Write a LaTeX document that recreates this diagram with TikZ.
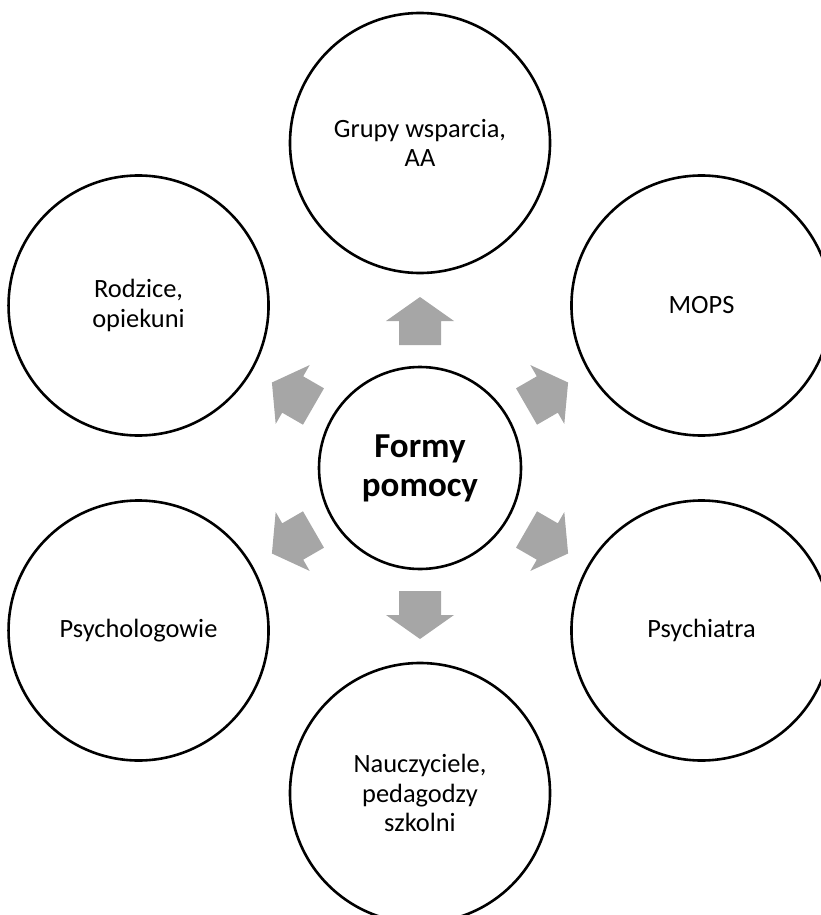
\documentclass[tikz,border=0pt]{standalone}
\usepackage{fontspec}
\setmainfont{Carlito}
\usetikzlibrary{calc}
\tikzset{
  outer/.style={circle, draw=black, line width=2.6pt, minimum size=260pt, inner sep=0pt, align=center, font=\fontsize{26.4}{29.5}\selectfont},
  inner/.style={circle, draw=black, line width=2.6pt, minimum size=202pt, inner sep=0pt, align=center, font=\fontsize{35}{39}\selectfont\bfseries},
  blockarrow/.style={fill=black!35, draw=none}
}
\begin{document}
\begin{tikzpicture}[x=1pt,y=1pt]
\useasboundingbox (0,-915) rectangle (821,0);
\clip (0,-915) rectangle (821,0);
\coordinate (C) at (420,-468);
\node[inner] (center) at (C) {Formy\\pomocy};
\node[outer] (grupy) at ($(C)+(90:325)$) {Grupy wsparcia,\\AA};
\node[outer] (mops) at ($(C)+(30:325)$) {MOPS};
\node[outer] (psychiatra) at ($(C)+(-30:325)$) {Psychiatra};
\node[outer] (naucz) at ($(C)+(-90:325)$) {Nauczyciele,\\pedagodzy\\szkolni};
\node[outer] (psycholog) at ($(C)+(-150:325)$) {Psychologowie};
\node[outer] (rodzice) at ($(C)+(150:325)$) {Rodzice,\\opiekuni};
\foreach \a in {90,30,-30,-90,-150,150}
  \fill[blockarrow, shift={(C)}, rotate=\a] (123,-21) -- (147,-21) -- (147,-34) -- (171,0) -- (147,34) -- (147,21) -- (123,21) -- cycle;
\end{tikzpicture}
\end{document}
